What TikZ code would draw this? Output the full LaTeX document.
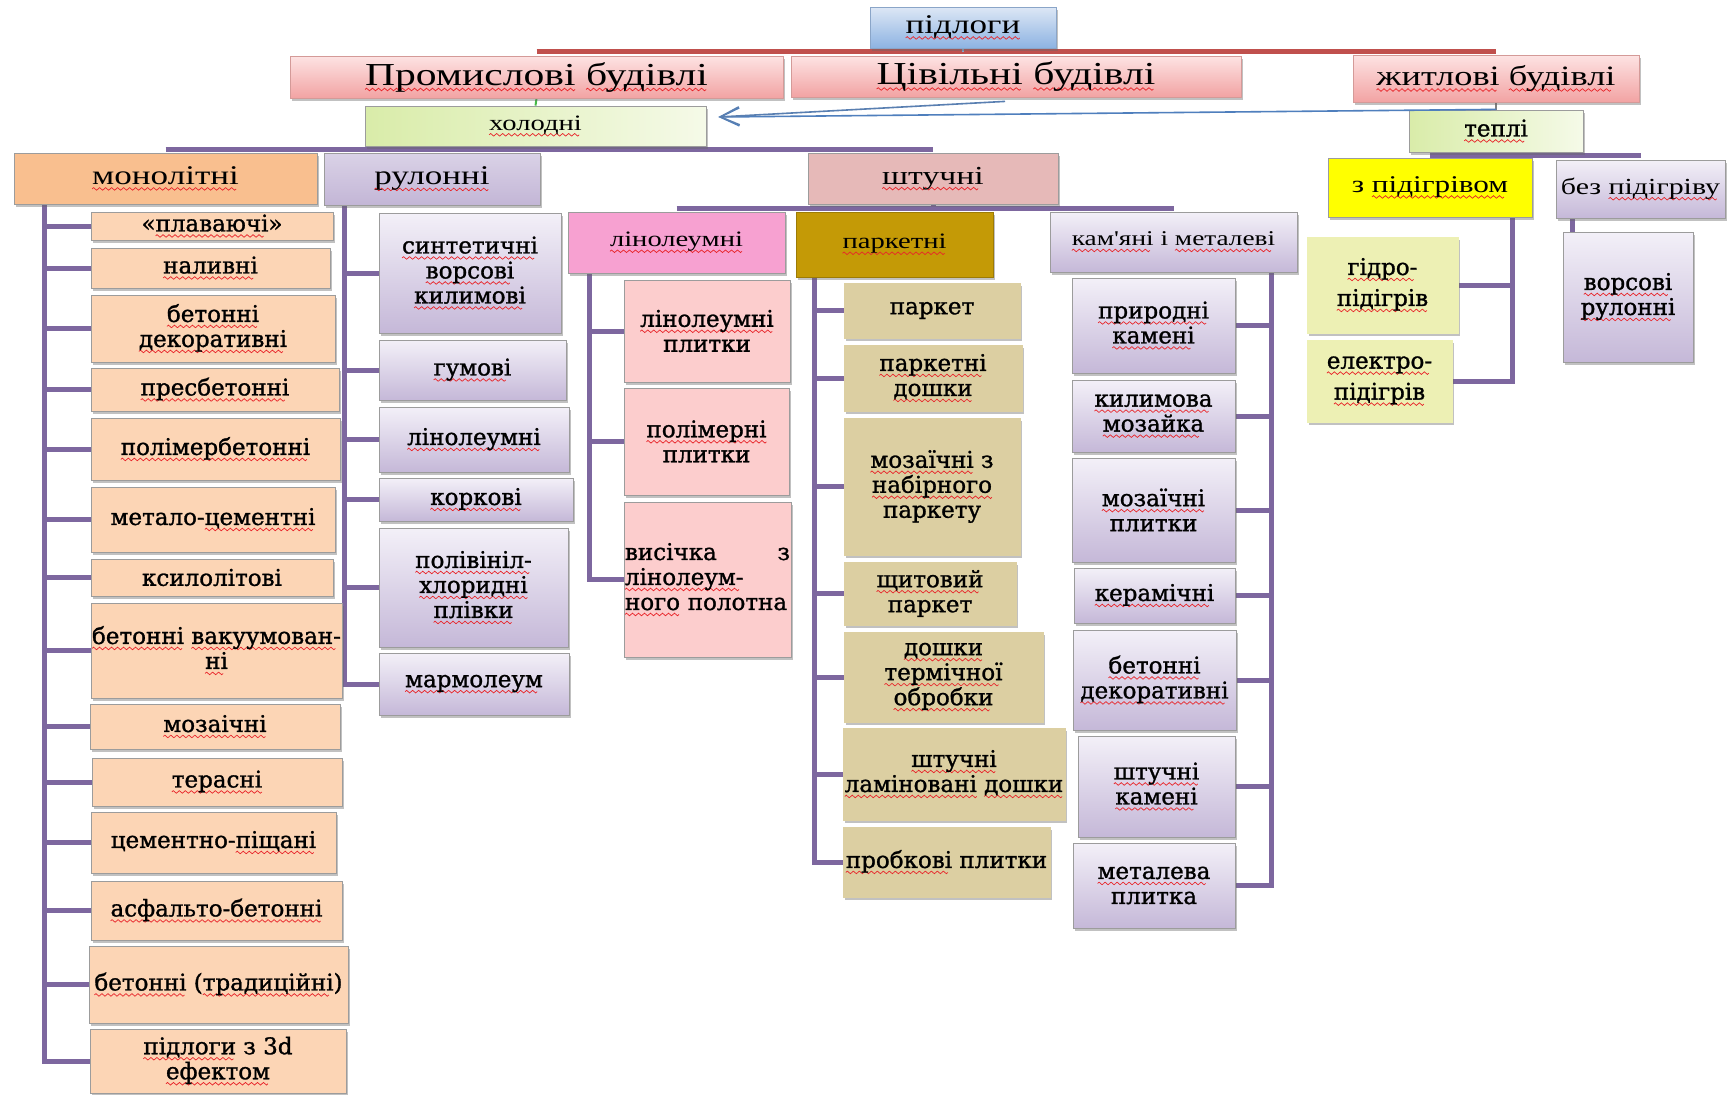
\documentclass[tikz,border=0pt]{standalone}
\usepackage{fontspec}
\setmainfont{Liberation Serif}
\newfontfamily\hd{Liberation Serif}[FakeStretch=1.3]
\newfontfamily\bk{DejaVu Serif}[FakeBold=1.2]
\usetikzlibrary{shadows,backgrounds,arrows.meta,calc}

% palette
\definecolor{bordgray}{HTML}{9C9C9C}
\definecolor{pidlT}{HTML}{DDE7F5}
\definecolor{pidlB}{HTML}{8DB3E2}
\definecolor{pidlbd}{HTML}{8AA5C8}
\definecolor{redT}{HTML}{FDE3E3}
\definecolor{redB}{HTML}{F2A3A3}
\definecolor{redbd}{HTML}{D49A98}
\definecolor{grnL}{HTML}{D9ECA9}
\definecolor{grnR}{HTML}{F5FAE8}
\definecolor{orng}{HTML}{F9BF8F}
\definecolor{peach}{HTML}{FCD5B5}
\definecolor{lavT}{HTML}{F3F0F8}
\definecolor{lavB}{HTML}{C5B8D8}
\definecolor{rulT}{HTML}{DAD2E7}
\definecolor{rulB}{HTML}{C3B6D6}
\definecolor{dusty}{HTML}{E6B9B8}
\definecolor{linH}{HTML}{F7A1D1}
\definecolor{linC}{HTML}{FCCDCD}
\definecolor{parkH}{HTML}{C49A06}
\definecolor{parkC}{HTML}{DCCFA2}
\definecolor{yel}{HTML}{FFFF00}
\definecolor{zC}{HTML}{EDF0B4}
\definecolor{conncol}{HTML}{7D679F}
\definecolor{barred}{HTML}{C0504D}
\definecolor{arrblue}{HTML}{4F7FBD}
\definecolor{wavered}{HTML}{E8252A}

% red spell-check wave under a word
\newsavebox\wavebox
\newsavebox\sqbox
\newcommand\sq[1]{\sbox\sqbox{#1}\leavevmode\rlap{\lower6pt\hbox to \wd\sqbox{\leaders\copy\wavebox\hfill}}\usebox\sqbox}

% box from its corners: name, x1, y1, x2, y2, style, text
\newcommand\bx[7]{\node[#6,minimum width={(#4)-(#2)},minimum height={(#5)-(#3)}] (#1) at ({((#2)+(#4))/2},{((#3)+(#5))/2}) {#7};}

\begin{document}
\sbox\wavebox{\begin{pgfpicture}
  \pgfpathrectangle{\pgfpoint{0pt}{-1.5pt}}{\pgfpoint{6pt}{3pt}}\pgfusepath{use as bounding box}
  \pgfsetlinewidth{0.7pt}\pgfsetstrokecolor{wavered}
  \pgfpathmoveto{\pgfpointorigin}
  \pgfpathsine{\pgfpoint{1.5pt}{1.3pt}}\pgfpathcosine{\pgfpoint{1.5pt}{-1.3pt}}
  \pgfpathsine{\pgfpoint{1.5pt}{-1.3pt}}\pgfpathcosine{\pgfpoint{1.5pt}{1.3pt}}
  \pgfusepath{stroke}
\end{pgfpicture}}%
\begin{tikzpicture}[x=1pt,y=-1pt,
  box/.style={rectangle,inner sep=0pt,align=center,line width=0.8pt,draw=bordgray,
    drop shadow={shadow xshift=2pt,shadow yshift=-2.5pt,opacity=0.4,fill=black!60}},
  toph/.style={box,draw=pidlbd,top color=pidlT,bottom color=pidlB,font=\hd\fontsize{27}{31}\selectfont},
  redh/.style={box,draw=redbd,top color=redT,bottom color=redB,font=\hd\fontsize{32}{36}\selectfont},
  grnh/.style={box,left color=grnL,right color=grnR},
  monoh/.style={box,fill=orng,font=\hd\fontsize{27}{31}\selectfont},
  rulh/.style={box,top color=rulT,bottom color=rulB,font=\hd\fontsize{27}{31}\selectfont},
  shth/.style={box,fill=dusty,font=\hd\fontsize{26}{30}\selectfont},
  linh/.style={box,fill=linH,font=\hd\fontsize{22}{26}\selectfont},
  parkh/.style={box,fill=parkH,draw=parkH!80!black,font=\hd\fontsize{22}{26}\selectfont},
  lavh/.style={box,top color=lavT,bottom color=lavB},
  yelh/.style={box,fill=yel,font=\hd\fontsize{24}{28}\selectfont},
  cf/.style={font=\bk\fontsize{23}{25}\selectfont},
  monoc/.style={box,fill=peach,cf},
  rulc/.style={lavh,cf},
  linc/.style={box,fill=linC,cf},
  parkc/.style={box,fill=parkC,draw=parkC,cf},
  zc/.style={box,fill=zC,draw=zC,cf},
  conn/.style={draw=conncol,line width=5pt},
  arr/.style={draw=arrblue,line width=1.6pt,-{Straight Barb[length=19pt,width=18pt,line width=1.6pt]}}
]
\useasboundingbox (0,0) rectangle (1727,1095);

% top levels
\bx{pidl}{870}{7}{1056}{48}{toph}{\sq{підлоги}}
\bx{prom}{290}{56}{783}{98}{redh}{\sq{Промислові} \sq{будівлі}}
\bx{civ}{791}{56}{1241}{97}{redh}{\sq{Цівільні} \sq{будівлі}}
\bx{zhit}{1353}{55}{1639}{102}{redh,font=\hd\fontsize{28}{32}\selectfont}{\sq{житлові} \sq{будівлі}}
\bx{hol}{365}{106}{706}{146}{grnh,font=\hd\fontsize{22}{26}\selectfont}{\sq{холодні}}
\bx{tepl}{1409}{110}{1583}{152}{grnh,cf}{\sq{теплі}}

% second level
\bx{mono}{14}{153}{317}{204}{monoh}{\sq{монолітні}}
\bx{rul}{324}{153}{540}{205}{rulh}{\sq{рулонні}}
\bx{sht}{808}{153}{1058}{204}{shth}{\sq{штучні}}
\bx{zpid}{1328}{158}{1532}{217}{yelh}{з \sq{підігрівом}}
\bx{bez}{1556}{160}{1725}{218}{lavh,font=\hd\fontsize{23}{27}\selectfont}{без \sq{підігріву}}

% kinds of artificial floors
\bx{lin}{568}{212}{785}{273}{linh}{\sq{лінолеумні}}
\bx{park}{796}{212}{993}{277}{parkh}{\sq{паркетні}}
\bx{kam}{1050}{212}{1297}{272}{lavh,font=\hd\fontsize{21}{25}\selectfont}{\sq{кам'яні} і \sq{металеві}}

% monolithic
\bx{m1}{91}{212}{333}{240}{monoc}{«\sq{плаваючі}»}
\bx{m2}{91}{248}{330}{288}{monoc}{\sq{наливні}}
\bx{m3}{91}{295}{335}{362}{monoc}{\sq{бетонні}\\\sq{декоративні}}
\bx{m4}{91}{368}{339}{411}{monoc}{\sq{пресбетонні}}
\bx{m5}{91}{418}{340}{480}{monoc}{\sq{полімербетонні}}
\bx{m6}{91}{487}{335}{552}{monoc}{метало-\sq{цементні}}
\bx{m7}{91}{559}{333}{596}{monoc}{ксилолітові}
\bx{m8}{91}{603}{342}{698}{monoc}{\sq{бетонні} \sq{вакуумован-}\\\sq{ні}}
\bx{m9}{90}{704}{340}{749}{monoc}{\sq{мозаічні}}
\bx{m10}{92}{758}{342}{806}{monoc}{\sq{терасні}}
\bx{m11}{91}{812}{336}{873}{monoc}{цементно-\sq{піщані}}
\bx{m12}{91}{881}{342}{940}{monoc}{\sq{асфальто-бетонні}}
\bx{m13}{89}{946}{348}{1023}{monoc}{\sq{бетонні} (\sq{традиційні})}
\bx{m14}{90}{1029}{346}{1093}{monoc}{\sq{підлоги} з 3d\\\sq{ефектом}}

% rolled
\bx{r1}{379}{213}{561}{333}{rulc}{\sq{синтетичні}\\\sq{ворсові}\\\sq{килимові}}
\bx{r2}{379}{340}{566}{400}{rulc}{\sq{гумові}}
\bx{r3}{379}{407}{569}{472}{rulc}{\sq{лінолеумні}}
\bx{r4}{379}{478}{573}{521}{rulc}{\sq{коркові}}
\bx{r5}{379}{528}{568}{647}{rulc}{\sq{полівініл-}\\\sq{хлоридні}\\\sq{плівки}}
\bx{r6}{379}{653}{569}{715}{rulc}{\sq{мармолеум}}

% linoleum
\bx{l1}{624}{280}{790}{382}{linc}{\sq{лінолеумні}\\плитки}
\bx{l2}{624}{388}{789}{495}{linc}{\sq{полімерні}\\плитки}
\bx{l3}{624}{502}{791}{657}{linc,text width=165pt,align=left}{\hbox to 165pt{висічка\hfill з}\\\sq{лінолеум-}\\\sq{ного} полотна}

% parquet
\bx{p1}{844}{283}{1020}{338}{parkc}{паркет}
\bx{p2}{844}{345}{1022}{411}{parkc}{\sq{паркетні}\\\sq{дошки}}
\bx{p3}{844}{418}{1020}{555}{parkc}{\sq{мозаїчні} з\\\sq{набірного}\\паркету}
\bx{p4}{844}{562}{1016}{625}{parkc}{\sq{щитовий}\\паркет}
\bx{p5}{844}{632}{1043}{722}{parkc}{\sq{дошки}\\\sq{термічної}\\\sq{обробки}}
\bx{p6}{843}{728}{1065}{820}{parkc}{\sq{штучні}\\\sq{ламіновані} \sq{дошки}}
\bx{p7}{843}{827}{1050}{897}{parkc}{\sq{пробкові} плитки}

% stone and metal
\bx{k1}{1072}{278}{1235}{373}{rulc}{\sq{природні}\\\sq{камені}}
\bx{k2}{1072}{380}{1235}{452}{rulc}{\sq{килимова}\\\sq{мозайка}}
\bx{k3}{1072}{458}{1235}{562}{rulc}{\sq{мозаїчні}\\плитки}
\bx{k4}{1074}{568}{1235}{623}{rulc}{\sq{керамічні}}
\bx{k5}{1073}{630}{1236}{730}{rulc}{\sq{бетонні}\\\sq{декоративні}}
\bx{k6}{1078}{736}{1235}{837}{rulc}{\sq{штучні}\\\sq{камені}}
\bx{k7}{1073}{843}{1235}{928}{rulc}{\sq{металева}\\плитка}

% warm floors
\bx{z1}{1307}{237}{1458}{333}{zc,font=\bk\fontsize{23}{31}\selectfont}{\sq{гідро-}\\\sq{підігрів}}
\bx{z2}{1307}{340}{1452}{422}{zc,font=\bk\fontsize{23}{31}\selectfont}{\sq{електро-}\\\sq{підігрів}}
\bx{b1}{1563}{232}{1693}{362}{rulc}{\sq{ворсові}\\\sq{рулонні}}

% references from the residential buildings to cold floors
\draw[arr] ([yshift=-7pt]zhit.south) -- ([xshift=12pt,yshift=9pt]hol.east);
\draw[arr,draw=arrblue!80!gray] ([xshift=-11pt,yshift=-4pt]civ.south) -- ([xshift=12pt,yshift=9pt]hol.east);

\begin{scope}[on background layer]
  \fill[white] (0,0) rectangle (1727,1095);
  % bars joining siblings
  \draw[draw=barred,line width=5pt] ([yshift=4pt]prom.north) -- ([yshift=4pt]prom.north -| zhit.north);
  \draw[draw=pidlbd,line width=1.5pt] (pidl.south) -- ([yshift=4pt]pidl.south |- prom.north);
  \draw[draw=green!45!gray,line width=2pt] (prom.south) -- (hol.north);
  \draw[draw=gray,line width=2pt] (zhit.south) -- (tepl.north);
  \draw[conn] ([yshift=3.5pt]mono.north) -- ([yshift=3.5pt]mono.north -| sht.north);
  \draw[conn] (hol.south) -- ([yshift=3.5pt]hol.south |- mono.north);
  \draw[conn] ([yshift=3.5pt]lin.north) -- ([yshift=3.5pt]lin.north -| kam.north);
  \draw[conn] (sht.south) -- ([yshift=3.5pt]sht.south |- lin.north);
  \draw[conn] ([yshift=2.5pt]zpid.north) -- ([yshift=2.5pt]zpid.north -| bez.north);
  \draw[conn] (tepl.south) -- ([yshift=2.5pt]tepl.south |- zpid.north);
  % trees
  \foreach \c in {m1,m2,m3,m4,m5,m6,m7,m8,m9,m10,m11,m12,m13,m14}
    \draw[conn] ($(mono.south west)+(31,0)$) |- (\c.west);
  \foreach \c in {r1,r2,r3,r4,r5,r6}
    \draw[conn] ($(rul.south west)+(21,0)$) |- (\c.west);
  \foreach \c in {l1,l2,l3}
    \draw[conn] ($(lin.south west)+(22,0)$) |- (\c.west);
  \foreach \c in {p1,p2,p3,p4,p5,p6,p7}
    \draw[conn] ($(park.south west)+(19,0)$) |- (\c.west);
  \foreach \c in {k1,k2,k3,k4,k5,k6,k7}
    \draw[conn] ($(kam.south east)+(-26,0)$) |- (\c.east);
  \foreach \c in {z1,z2}
    \draw[conn] ($(zpid.south east)+(-20,0)$) |- (\c.east);
  \draw[conn] ($(bez.south west)+(17,0)$) -- ($(b1.north west)+(10,0)$);
\end{scope}
\end{tikzpicture}
\end{document}
